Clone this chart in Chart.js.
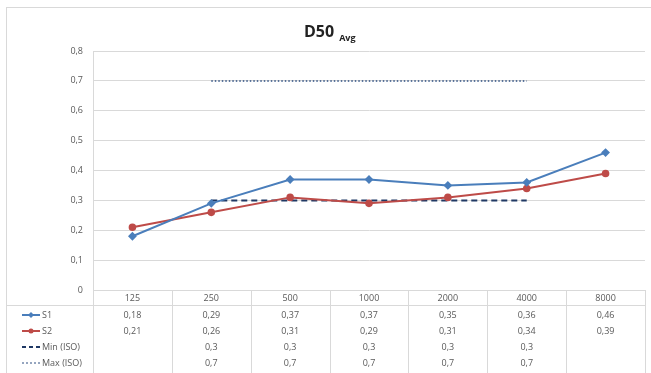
<!DOCTYPE html>
<html>
<head>
<meta charset="utf-8">
<script src="https://cdn.jsdelivr.net/npm/chart.js@4/dist/chart.umd.min.js"></script>
<style>
  html, body { margin: 0; padding: 0; background: #fff; }
  #wrap { width: 651px; height: 373px; position: relative; }
</style>
</head>
<body>
<div id="wrap"><canvas id="d50Chart"></canvas></div>
<script>
const categorias = ['125', '250', '500', '1000', '2000', '4000', '8000'];
const serieS1 = [0.18, 0.29, 0.37, 0.37, 0.35, 0.36, 0.46];
const serieS2 = [0.21, 0.26, 0.31, 0.29, 0.31, 0.34, 0.39];
const minISO = [null, 0.3, 0.3, 0.3, 0.3, 0.3, null];
const maxISO = [null, 0.7, 0.7, 0.7, 0.7, 0.7, null];
const nomes = ['S1', 'S2', 'Min (ISO)', 'Max (ISO)'];

const corS1 = '#4a7ebb';
const corS2 = '#be4b48';
const corMin = '#1f3864';
const corMax = '#2c4d80';
const corTexto = '#595959';
const corGrade = '#d9d9d9';
const fonte = '"Open Sans", "Liberation Sans", sans-serif';

function fmt(v) {
    if (v === null || v === undefined) return '';
    return String(Math.round(v * 100) / 100).replace('.', ',');
}

// Plugin que desenha título e tabela de dados
const tabelaPlugin = {
    id: 'tabelaDados',
    afterDraw(chart) {
        const ctx = chart.ctx;
        const xs = chart.scales.x;
        const area = chart.chartArea;
        const largura = (area.right - area.left) / categorias.length;
        ctx.save();

        // borda externa
        ctx.strokeStyle = corGrade;
        ctx.lineWidth = 1;
        ctx.strokeRect(6.5, 7.5, 700, 400);

        // título
        ctx.fillStyle = '#222';
        ctx.textBaseline = 'alphabetic';
        ctx.textAlign = 'left';
        ctx.font = 'bold 16px ' + fonte;
        ctx.fillText('D50', 304, 37);
        const w = ctx.measureText('D50').width;
        ctx.font = 'bold 9px ' + fonte;
        ctx.fillText('Avg', 304 + w + 5, 41);

        // linhas da tabela
        const topo = area.bottom;
        const linhaCab = 305.5;
        ctx.strokeStyle = corGrade;
        ctx.beginPath();
        ctx.moveTo(7, linhaCab);
        ctx.lineTo(area.right, linhaCab);
        ctx.moveTo(Math.round(area.left) + 0.5, topo);
        ctx.lineTo(Math.round(area.left) + 0.5, 373);
        for (let i = 0; i < categorias.length; i++) {
            const xr = Math.round(xs.getPixelForValue(i) + largura / 2) + 0.5;
            ctx.moveTo(xr, topo);
            ctx.lineTo(xr, 373);
        }
        ctx.stroke();

        // valores
        const linhasY = [298, 315, 331, 347, 363];
        const series = [serieS1, serieS2, minISO, maxISO];
        ctx.fillStyle = corTexto;
        ctx.font = '9px ' + fonte;
        ctx.textAlign = 'center';
        ctx.textBaseline = 'middle';
        categorias.forEach((c, i) => {
            const cx = xs.getPixelForValue(i);
            ctx.fillText(c, cx, linhasY[0]);
            series.forEach((s, j) => {
                ctx.fillText(fmt(s[i]), cx, linhasY[j + 1]);
            });
        });

        // legenda na primeira coluna
        const estilos = [
            { cor: corS1, dash: [], lw: 2, marca: 'losango' },
            { cor: corS2, dash: [], lw: 2, marca: 'circulo' },
            { cor: corMin, dash: [4, 3], lw: 2, marca: null },
            { cor: corMax, dash: [2, 2], lw: 1, marca: null }
        ];
        estilos.forEach((e, j) => {
            const y = linhasY[j + 1];
            ctx.strokeStyle = e.cor;
            ctx.lineWidth = e.lw;
            ctx.setLineDash(e.dash);
            ctx.beginPath();
            ctx.moveTo(22, y);
            ctx.lineTo(40, y);
            ctx.stroke();
            ctx.setLineDash([]);
            ctx.fillStyle = e.cor;
            if (e.marca === 'losango') {
                ctx.beginPath();
                ctx.moveTo(31, y - 3); ctx.lineTo(34, y); ctx.lineTo(31, y + 3); ctx.lineTo(28, y);
                ctx.closePath(); ctx.fill();
            } else if (e.marca === 'circulo') {
                ctx.beginPath(); ctx.arc(31, y, 2.5, 0, Math.PI * 2); ctx.fill();
            }
            ctx.fillStyle = corTexto;
            ctx.textAlign = 'left';
            ctx.fillText(nomes[j], 42, y);
        });
        ctx.restore();
    }
};

const ctx = document.getElementById('d50Chart').getContext('2d');
const d50Chart = new Chart(ctx, {
    type: 'line',
    data: {
        labels: categorias,
        datasets: [{
            label: nomes[0],
            data: serieS1,
            borderColor: corS1,
            backgroundColor: corS1,
            borderWidth: 2,
            pointStyle: 'rectRot',
            pointRadius: 3,
            tension: 0
        }, {
            label: nomes[1],
            data: serieS2,
            borderColor: corS2,
            backgroundColor: corS2,
            borderWidth: 2,
            pointStyle: 'circle',
            pointRadius: 2.8,
            tension: 0
        }, {
            label: nomes[2],
            data: minISO,
            borderColor: corMin,
            borderWidth: 2,
            borderDash: [6, 4],
            pointRadius: 0
        }, {
            label: nomes[3],
            data: maxISO,
            borderColor: corMax,
            borderWidth: 1.5,
            borderDash: [1.5, 2],
            pointRadius: 0
        }]
    },
    options: {
        responsive: true,
        maintainAspectRatio: false,
        animation: false,
        layout: { padding: { top: 51, bottom: 83, left: 0, right: 0 } },
        plugins: {
            legend: { display: false },
            title: { display: false },
            tooltip: { enabled: false }
        },
        scales: {
            x: {
                offset: true,
                afterFit(s) { s.height = 0; },
                grid: { display: false },
                border: { display: false },
                ticks: { display: false }
            },
            y: {
                min: 0,
                max: 0.8,
                afterFit(s) { s.width = 93; },
                ticks: {
                    stepSize: 0.1,
                    padding: 10,
                    color: corTexto,
                    font: { family: fonte, size: 9 },
                    callback: (v) => v === 0 ? '0' : v.toFixed(1).replace('.', ',')
                },
                grid: { color: corGrade, lineWidth: 1, drawTicks: false },
                border: { display: true, color: corGrade }
            }
        }
    },
    plugins: [tabelaPlugin]
});
</script>
</body>
</html>
